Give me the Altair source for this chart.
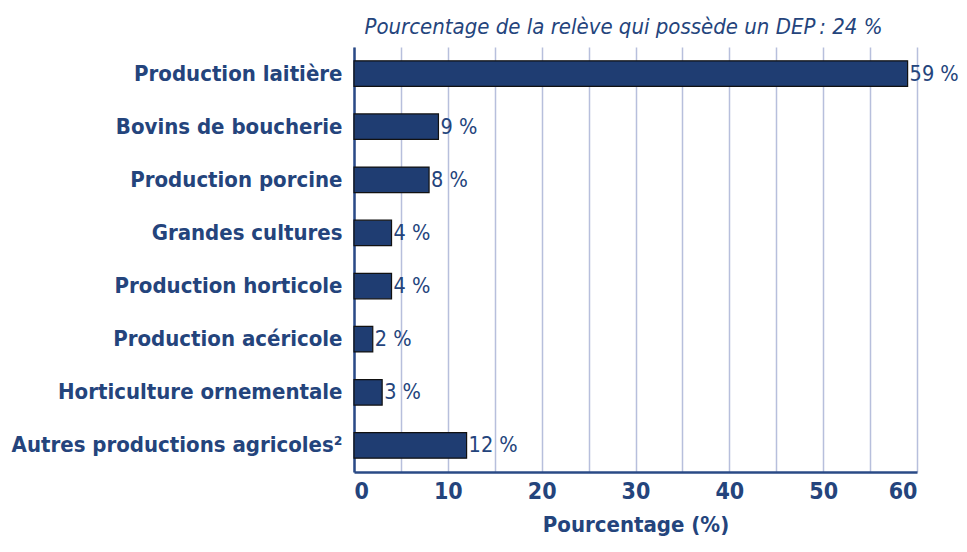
import altair as alt
import pandas as pd

categories = [
    "Production laitière",
    "Bovins de boucherie",
    "Production porcine",
    "Grandes cultures",
    "Production horticole",
    "Production acéricole",
    "Horticulture ornementale",
    "Autres productions agricoles²",
]
values = [59, 9, 8, 4, 4, 2, 3, 12]
labels = ["59 %", "9 %", "8 %", "4 %", "4 %", "2 %", "3 %", "12 %"]
x_ticks = [0, 5, 10, 15, 20, 25, 30, 35, 40, 45, 50, 55, 60]

df = pd.DataFrame({"cat": categories, "val": values, "lab": labels})

DARK = "#1f3d72"
TXT = "#24447c"
FONT = "DejaVu Sans Condensed, Roboto, Noto Sans, sans-serif"

x_enc = alt.X(
    "val:Q",
    scale=alt.Scale(domain=[0, 60], nice=False),
    axis=alt.Axis(
        values=x_ticks,
        labelExpr="datum.value % 10 == 0 ? datum.label : ''",
        title="Pourcentage (%)",
        titleFont=FONT,
        titleFontSize=22,
        titleFontWeight="bold",
        titleColor=TXT,
        titlePadding=11,
        labelFont=FONT,
        labelFontSize=23,
        labelFontWeight="bold",
        labelColor=TXT,
        labelPadding=8,
        ticks=False,
        grid=True,
        gridColor="#b7bfdc",
        gridWidth=1.5,
        domainColor="#2a4a86",
        domainWidth=2.5,
    ),
)
y_enc = alt.Y(
    "cat:N",
    sort=categories,
    scale=alt.Scale(paddingInner=0.52, paddingOuter=0.26),
    axis=alt.Axis(
        title=None,
        labelFont=FONT,
        labelFontSize=22,
        labelFontWeight="bold",
        labelColor=TXT,
        labelPadding=12,
        labelLimit=400,
        ticks=False,
        domainColor="#2a4a86",
        domainWidth=2.5,
        grid=False,
    ),
)

bars = alt.Chart(df).mark_bar(color=DARK, stroke="#111111", strokeWidth=1.2).encode(
    x=x_enc, y=y_enc
)
text = alt.Chart(df).mark_text(
    align="left", baseline="middle", dx=2, dy=1,
    font=FONT, fontSize=21.5, fontWeight=300, color=TXT
).encode(x="val:Q", y=alt.Y("cat:N", sort=categories), text="lab:N")

chart = (
    alt.layer(bars, text)
    .properties(
        width=563,
        height=425,
        autosize=alt.AutoSizeParams(type="none"),
        padding={"left": 346, "top": 39, "right": 42, "bottom": 66},
        title=alt.TitleParams(
            "Pourcentage de la relève qui possède un DEP\u202f: 24 %",
            font=FONT,
            fontSize=22,
            fontStyle="italic",
            fontWeight="normal",
            color=TXT,
            anchor="middle",
            dx=-12,
            offset=8,
        ),
    )
    .configure_view(stroke=None)
)

chart.save("out.html", embed_options={"renderer": "svg", "actions": False})
